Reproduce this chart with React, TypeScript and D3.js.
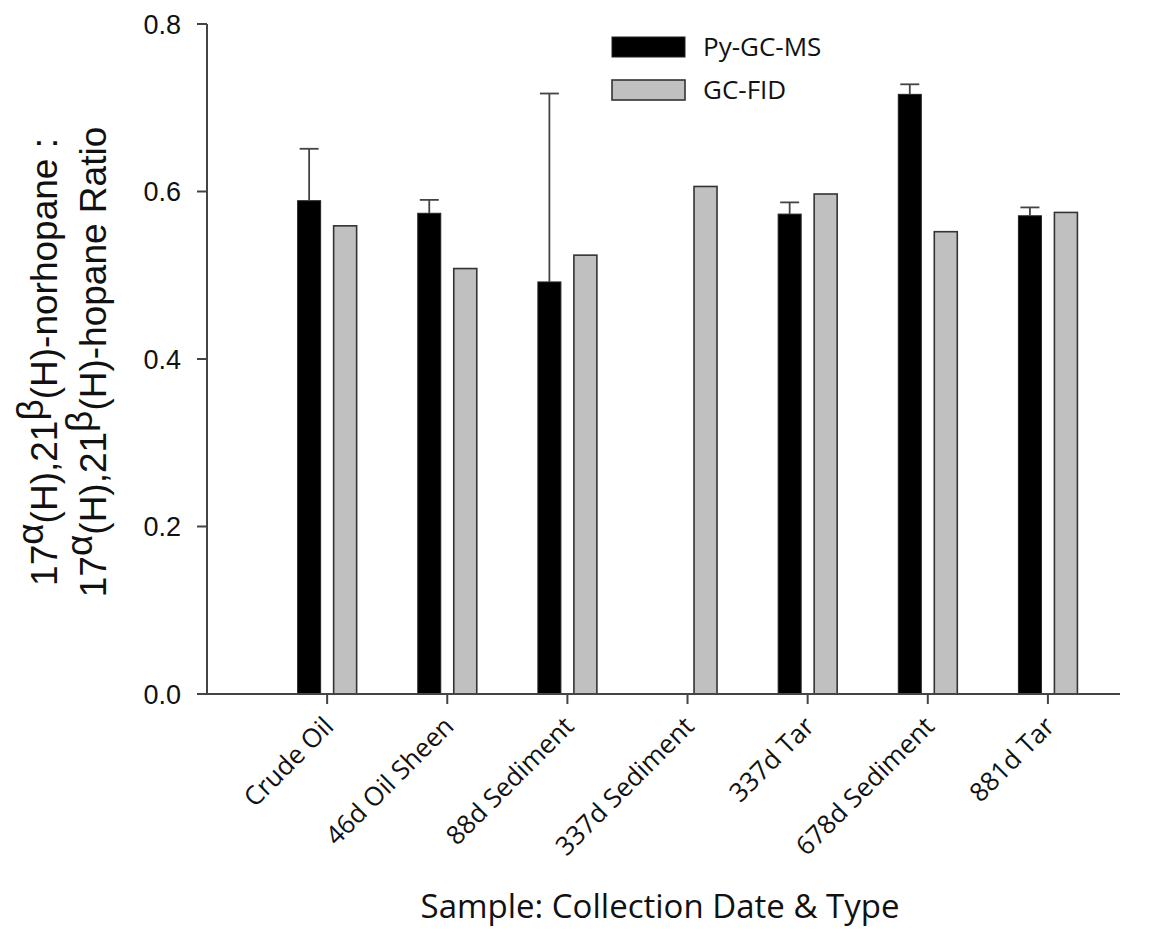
import React from "react";
import * as d3 from "d3";

const width = 1154;
const height = 939;

const categories = [
  "Crude Oil",
  "46d Oil Sheen",
  "88d Sediment",
  "337d Sediment",
  "337d Tar",
  "678d Sediment",
  "881d Tar",
];

// Py-GC-MS (null = no measurement)
const pyValues: (number | null)[] = [0.589, 0.574, 0.492, null, 0.573, 0.716, 0.571];
const pyErrTop: (number | null)[] = [0.651, 0.59, 0.717, null, 0.587, 0.728, 0.581];
// GC-FID
const fidValues = [0.559, 0.508, 0.524, 0.606, 0.597, 0.552, 0.575];

const yTicks = [0, 0.2, 0.4, 0.6, 0.8];

const x0 = 207;
const x1 = 1120;
const yBase = 694;
const yTop = 24;

const x = d3.scaleLinear().domain([0, 7.6]).range([x0, x1]);
const y = d3.scaleLinear().domain([0, 0.8]).range([yBase, yTop]);

const barW = 23;
const offset = 18;
const axisColor = "#444";
const arial = "'Liberation Sans', Arial, sans-serif";
const calibri = "'Open Sans', sans-serif";

export default function App() {
  return (
    <svg
      width={width}
      height={height}
      style={{ position: "absolute", left: 0, top: 0, background: "#fff" }}
    >
      {/* bars */}
      {categories.map((c, i) => {
        const cx = x(i + 1);
        const pv = pyValues[i];
        const pe = pyErrTop[i];
        return (
          <g key={c}>
            {pv !== null && (
              <rect
                x={cx - offset - barW / 2}
                y={y(pv)}
                width={barW}
                height={yBase - y(pv)}
                fill="#000"
                stroke="#222"
                strokeWidth={1}
              />
            )}
            {pv !== null && pe !== null && (
              <g stroke="#444" strokeWidth={1.8}>
                <line x1={cx - offset} x2={cx - offset} y1={y(pv)} y2={y(pe)} />
                <line x1={cx - offset - 9.5} x2={cx - offset + 9.5} y1={y(pe)} y2={y(pe)} />
              </g>
            )}
            <rect
              x={cx + offset - barW / 2}
              y={y(fidValues[i])}
              width={barW}
              height={yBase - y(fidValues[i])}
              fill="#c0c0c0"
              stroke="#333"
              strokeWidth={1.6}
            />
          </g>
        );
      })}

      {/* y axis */}
      <line x1={x0} x2={x0} y1={yTop} y2={yBase} stroke={axisColor} strokeWidth={2} />
      {yTicks.map((t) => (
        <g key={t}>
          <line x1={x0 - 10} x2={x0} y1={y(t)} y2={y(t)} stroke={axisColor} strokeWidth={2} />
          <text
            x={x0 - 26}
            y={y(t)}
            dy="0.36em"
            textAnchor="end"
            fontFamily={arial}
            fontSize={27}
            fill="#111"
          >
            {d3.format(".1f")(t)}
          </text>
        </g>
      ))}

      {/* x axis */}
      <line x1={x0} x2={x1} y1={yBase} y2={yBase} stroke={axisColor} strokeWidth={2} />
      {categories.map((c, i) => (
        <g key={c} transform={`translate(${x(i + 1)},${yBase})`}>
          <line y1={0} y2={10} stroke={axisColor} strokeWidth={2} />
          <text
            transform="translate(8,34) rotate(-45)"
            textAnchor="end"
            fontFamily={calibri}
            fontSize={26}
            fill="#111"
          >
            {c}
          </text>
        </g>
      ))}

      {/* axis titles */}
      <text
        x={660}
        y={918}
        textAnchor="middle"
        fontFamily={calibri}
        fontSize={33}
        fill="#111"
      >
        Sample: Collection Date &amp; Type
      </text>

      <g transform="translate(0,362) rotate(-90)" fontFamily={arial} fontSize={37} fill="#111">
        <text textAnchor="middle" y={57}>
          17<tspan dy={-14}>α</tspan>
          <tspan dy={14}>(H),21</tspan>
          <tspan dy={-14}>β</tspan>
          <tspan dy={14}>(H)-norhopane :</tspan>
        </text>
        <text textAnchor="middle" y={106}>
          17<tspan dy={-14}>α</tspan>
          <tspan dy={14}>(H),21</tspan>
          <tspan dy={-14}>β</tspan>
          <tspan dy={14}>(H)-hopane Ratio</tspan>
        </text>
      </g>

      {/* legend */}
      <g fontFamily={calibri} fontSize={26} fill="#111">
        <rect x={612} y={37} width={73} height={20} fill="#000" stroke="#222" />
        <text x={703} y={47} dy="0.36em">Py-GC-MS</text>
        <rect x={612} y={80} width={73} height={20} fill="#c0c0c0" stroke="#333" strokeWidth={1.6} />
        <text x={703} y={90} dy="0.36em">GC-FID</text>
      </g>
    </svg>
  );
}
